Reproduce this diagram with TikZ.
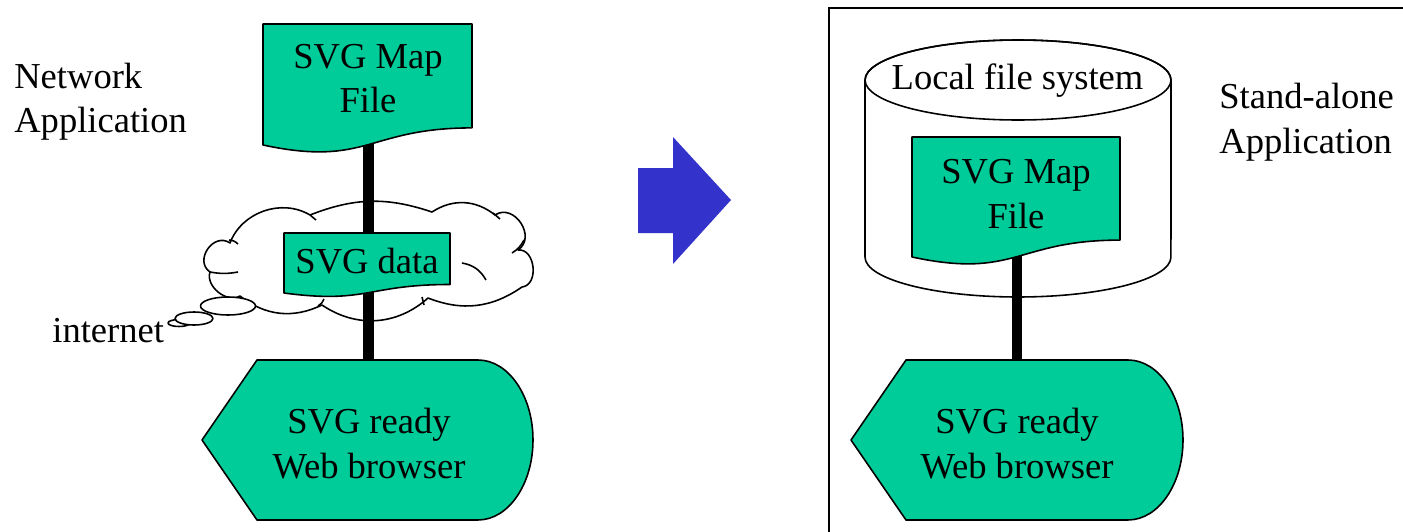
\documentclass[tikz,border=0pt]{standalone}
\usepackage{fontspec}
\setmainfont{Liberation Serif}
\definecolor{docgreen}{RGB}{0,204,153}
\definecolor{arrowblue}{RGB}{51,51,204}

\begin{document}
\begin{tikzpicture}[x=0.02cm,y=-0.02cm,
  outline/.style={draw=black, line width=0.9pt, line join=round},
  greenshape/.style={outline, fill=docgreen},
  lbl/.style={font=\fontsize{20.8}{25.3}\selectfont, inner sep=0pt, align=center},
  bar/.style={line width=0.22cm, black},
]
\useasboundingbox (0,0) rectangle (1403,531);

% frame of the stand-alone side
\draw[line width=0.9pt] (829,545) -- (829,8) -- (1420,8);

% internet cloud: a ring of puffs
\draw[outline, fill=white]
  (210,272) to[bend left=90, looseness=1.45] (230,243)
  to[bend left=50] (310,215)
  to[bend left=20] (432,212)
  to[bend left=36] (495,215)
  to[bend left=90, looseness=1.4] (518,250)
  to[bend left=90, looseness=1.2] (522,287)
  to[bend left=28] (428,298)
  to[bend left=38] (322,305)
  to[bend left=32] (240,296)
  to[bend left=70] (210,272) -- cycle;
% inner folds of the puffs
\draw[outline] (210,272) to[bend right=10] (238,272);
\draw[outline] (229,240) to[bend left=20] (238,244);
\draw[outline] (310,215) -- (316,220);
\draw[outline] (493,213) -- (500,219);
\draw[outline] (512,253) to[bend right=15] (524,240);
\draw[outline] (462,263) to[bend left=25] (486,280);
\draw[outline] (422,297) -- (424,305);
\draw[outline] (318,306) to[bend right=20] (324,299);
% thought bubbles
\draw[outline, fill=white] (179,323) ellipse[x radius=0.22cm, y radius=0.07cm];
\draw[outline, fill=white] (194,318.5) ellipse[x radius=0.38cm, y radius=0.13cm];
\draw[outline, fill=white] (228,306) ellipse[x radius=0.55cm, y radius=0.18cm];

% data path on the network side
\coordinate (doc1-foot) at (368,130);
\coordinate (web1-head) at (368,362);
\draw[bar] (doc1-foot) -- (web1-head);

% SVG map file (network)
\draw[greenshape] (263,24) -- (472,24) -- (472,127.9)
  .. controls (367.5,127.9) and (367.5,167.4) .. (263,145) -- cycle;
\node[lbl] (map1) at (368,78.5) {SVG Map\\File};

% SVG data in transit
\draw[greenshape] (284,233) -- (450,233) -- (450,284.5)
  .. controls (367,284.5) and (367,304.1) .. (284,293) -- cycle;
\node[lbl, anchor=base] (data) at (367,273) {SVG data};

% web browser (network)
\draw[greenshape] (202,440) -- (257,360) -- (478,360)
  arc[start angle=90, end angle=-90, x radius=1.1cm, y radius=1.6cm]
  -- (257,520) -- cycle;
\node[lbl] (web1) at (369,443.5) {SVG ready\\Web browser};

\node[lbl, align=left, anchor=west] (netapp) at (14,101.5) {Network\\Application};
\node[lbl, anchor=base west] (inet) at (52,342) {internet};

% transition arrow
\draw[fill=arrowblue, draw=none] (638,168) -- (673,168) -- (673,137) -- (731,200)
  -- (673,264) -- (673,233) -- (638,233) -- cycle;

% local file system
\draw[outline, fill=white] (865,80) -- (865,257)
  arc[start angle=180, end angle=360, x radius=3.06cm, y radius=0.8cm]
  -- (1171,80)
  arc[start angle=0, end angle=180, x radius=3.06cm, y radius=0.8cm] -- cycle;
\draw[outline] (1018,80) ellipse[x radius=3.06cm, y radius=0.8cm];
\node[lbl, anchor=base] (lfs) at (1017.5,89) {Local file system};

\coordinate (doc2-foot) at (1017,245);
\coordinate (web2-head) at (1017,362);
\draw[bar, line width=0.2cm] (doc2-foot) -- (web2-head);

% SVG map file (stand-alone)
\draw[greenshape] (912,137) -- (1120,137) -- (1120,240.1)
  .. controls (1016,240.1) and (1016,279.3) .. (912,257) -- cycle;
\node[lbl] (map2) at (1016,194) {SVG Map\\File};

% web browser (stand-alone)
\draw[greenshape] (851,440) -- (906,360) -- (1128,360)
  arc[start angle=90, end angle=-90, x radius=1.1cm, y radius=1.6cm]
  -- (906,520) -- cycle;
\node[lbl] (web2) at (1017,443.5) {SVG ready\\Web browser};

\node[lbl, align=left, anchor=west] (saapp) at (1219,122) {Stand-alone\\Application};
\end{tikzpicture}
\end{document}
